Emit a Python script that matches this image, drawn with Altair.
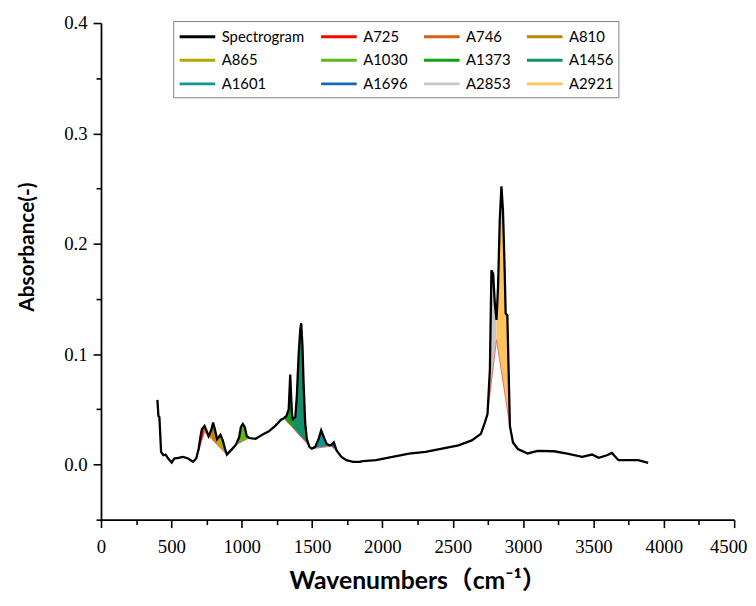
import altair as alt
import pandas as pd

# ---- spectrum ----
wavenumber = [401, 408, 415, 427, 443, 459, 478, 502, 520, 549, 584, 619, 654, 677, 694, 708, 717, 736, 752, 764,
              783, 797, 811, 825, 849, 865, 881, 895, 923, 959, 982, 994, 1008, 1022, 1036, 1053, 1099, 1130, 1146,
              1193, 1228, 1252, 1280, 1299, 1317, 1334, 1345, 1352, 1358, 1364, 1381, 1392, 1404, 1416, 1423, 1432,
              1439, 1451, 1463, 1481, 1498, 1522, 1546, 1565, 1580, 1603, 1627, 1645, 1655, 1674, 1709, 1744, 1791,
              1838, 1861, 1955, 2072, 2189, 2307, 2424, 2541, 2635, 2700, 2728, 2747, 2764, 2775, 2787, 2799, 2811,
              2822, 2834, 2846, 2857, 2869, 2876, 2888, 2897, 2906, 2928, 2963, 3033, 3103, 3220, 3314, 3420, 3490,
              3537, 3596, 3631, 3678, 3760, 3818, 3889]
absorbance = [0.0586, 0.044, 0.043, 0.0114, 0.0084, 0.009, 0.0054, 0.0018, 0.0054, 0.006, 0.0069, 0.0054, 0.0024,
              0.0054, 0.0143, 0.026, 0.032, 0.035, 0.030, 0.0257, 0.031, 0.038, 0.031, 0.023, 0.027, 0.022, 0.0143,
              0.009, 0.0128, 0.0179, 0.0248, 0.0338, 0.0368, 0.0338, 0.0257, 0.024, 0.0233, 0.0257, 0.027, 0.030,
              0.0338, 0.0368, 0.0406, 0.0419, 0.0437, 0.050, 0.0816, 0.060, 0.045, 0.041, 0.043, 0.062, 0.098, 0.122,
              0.128, 0.107, 0.077, 0.038, 0.023, 0.016, 0.0143, 0.016, 0.023, 0.031, 0.026, 0.0188, 0.0173, 0.0185,
              0.020, 0.0128, 0.0069, 0.0039, 0.0024, 0.0024, 0.003, 0.0039, 0.0069, 0.0099, 0.0114, 0.0143, 0.0173,
              0.0218, 0.0278, 0.038, 0.0457, 0.086, 0.176, 0.173, 0.146, 0.131, 0.161, 0.221, 0.252, 0.230, 0.176,
              0.137, 0.135, 0.086, 0.035, 0.020, 0.014, 0.010, 0.0123, 0.012, 0.0099, 0.0069, 0.009, 0.006, 0.0084,
              0.0105, 0.0039, 0.0039, 0.0039, 0.0015]

# ---- fitted bands ----
series_names = ["Spectrogram", "A725", "A746", "A810", "A865", "A1030", "A1373", "A1456",
                "A1601", "A1696", "A2853", "A2921"]
series_colors = ["#000000", "#ff0000", "#d2601a", "#b8860b", "#b5a800", "#5fb81a", "#14a014", "#139068",
                 "#149494", "#1468b8", "#c8c8c8", "#ffc45e"]
band_names = series_names[1:]
band_colors = series_colors[1:]
band_start = [694, 717, 783, 825, 959, 1299, 1364, 1498, 1627, 2747, 2811]
band_end = [736, 783, 825, 895, 1053, 1364, 1498, 1627, 1674, 2811, 2906]
band_base_start = [0.012, 0.032, 0.0235, 0.018, 0.0179, 0.0419, 0.033, 0.0143, 0.0173, 0.0457, 0.113]
band_base_end = [0.030, 0.0235, 0.018, 0.009, 0.024, 0.033, 0.0143, 0.0165, 0.0128, 0.113, 0.035]

spec = pd.DataFrame({"x": wavenumber, "a": absorbance, "series": "Spectrogram"})

rows, base_rows = [], []
for i, (n, x0, x1, b0, b1) in enumerate(zip(band_names, band_start, band_end, band_base_start, band_base_end)):
    for x, a in zip(wavenumber, absorbance):
        if x0 <= x <= x1:
            base = b0 + (b1 - b0) * (x - x0) / (x1 - x0)
            rows.append({"name": n, "x": x, "top": a, "base": base, "order": i})
    base_rows.append({"name": n, "x": x0, "b": b0})
    base_rows.append({"name": n, "x": x1, "b": b1})
bands = pd.DataFrame(rows)
baselines = pd.DataFrame(base_rows)

xscale = alt.Scale(domain=[0, 4500], nice=False)
yscale = alt.Scale(domain=[-0.05, 0.4], nice=False, zero=False)

is_major_y = "abs(round(datum.value*10) - datum.value*10) < 0.001"
is_major_x = "datum.value % 500 == 0"

x_axis = alt.Axis(
    values=list(range(0, 4501, 250)),
    labelExpr=f"{is_major_x} ? datum.label : ''",
    format="d",
    tickSize={"condition": {"test": is_major_x, "value": 8}, "value": 5},
    labelOffset={"condition": {"test": "datum.value == 4500", "value": -6}, "value": 0},
    labelPadding=10,
    title="Wavenumbers（cm⁻¹）", titleFontSize=25,
    titleX=320, titleY=70, titleBaseline="alphabetic",
    titleAnchor="middle", titleAlign="center",
)
y_axis = alt.Axis(
    values=[round(-0.05 + 0.05 * i, 2) for i in range(10)],
    labelExpr=f"{is_major_y} ? format(datum.value, '.1f') : ''",
    tickSize={"condition": {"test": is_major_y, "value": 8}, "value": 5},
    labelPadding=6,
    title="Absorbance(-)", titleFontSize=21,
    titleX=-74, titleY=226, titleAngle=-90,
    titleBaseline="middle", titleAlign="center",
)

areas = alt.Chart(bands).mark_area(opacity=1, interpolate="linear").encode(
    x=alt.X("x:Q", scale=xscale, axis=x_axis),
    y=alt.Y("top:Q", scale=yscale, axis=y_axis),
    y2="base:Q",
    fill=alt.Fill("name:N", scale=alt.Scale(domain=band_names, range=band_colors), legend=None),
    order="order:Q",
)

base_lines = alt.Chart(baselines).mark_line(strokeWidth=1, color="#ee6a6a").encode(
    x=alt.X("x:Q", scale=xscale, axis=x_axis),
    y=alt.Y("b:Q", scale=yscale, axis=y_axis),
    detail="name:N",
)

legend = alt.Legend(
    title=None, orient="none", legendX=73, legendY=-2, columns=4, direction="horizontal",
    symbolType="M-1,0H3", symbolStrokeWidth=3, symbolSize=324,
    labelFont="Lato", labelFontSize=15, labelColor="black", labelOffset=23,
    strokeColor="#808080", padding=5, rowPadding=5, columnPadding=10,
)

line = alt.Chart(spec).mark_line(strokeWidth=2.3).encode(
    x=alt.X("x:Q", scale=xscale, axis=x_axis),
    y=alt.Y("a:Q", scale=yscale, axis=y_axis),
    color=alt.Color("series:N", scale=alt.Scale(domain=series_names, range=series_colors), legend=legend),
)

chart = alt.layer(areas, base_lines, line).properties(
    width=640, height=502,
    autosize=alt.AutoSizeParams(type="none"),
    padding={"left": 94, "top": 12, "right": 14, "bottom": 80},
    background="white",
).configure_view(
    stroke=None
).configure_axis(
    grid=False, labelOverlap=False, labelFlush=False, labelBound=False,
    tickColor="black", tickWidth=1.6, domainColor="black", domainWidth=1.8,
    labelFont="Liberation Serif", labelFontSize=19, labelColor="black",
    titleFont="Lato, Noto Sans CJK SC", titleFontWeight="bold", titleColor="black",
)

chart.save("out.html", embed_options={"renderer": "svg", "actions": False})
